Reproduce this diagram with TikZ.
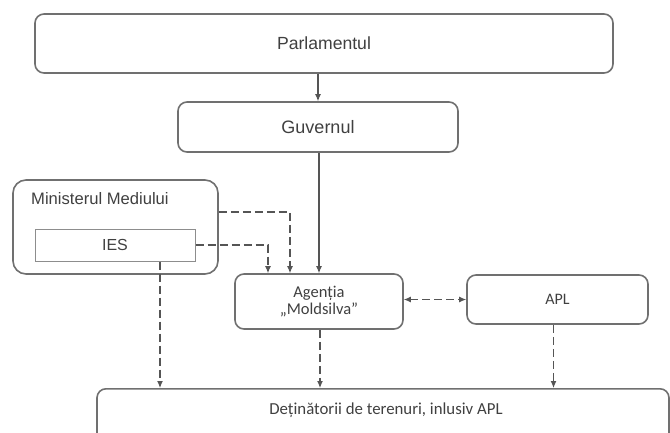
\documentclass[tikz,border=0pt]{standalone}
\usepackage{fontspec}
\setmainfont{Liberation Sans}
\newfontfamily\calfont{Carlito}
\usetikzlibrary{arrows.meta,positioning}
\definecolor{boxgray}{HTML}{707070}
\definecolor{linegray}{HTML}{555555}
\definecolor{txtgray}{HTML}{404040}
\begin{document}
\begin{tikzpicture}[x=1pt,y=-1pt,>={Latex[length=7pt,width=6pt]},
  box/.style={draw=boxgray,line width=1.6pt,rounded corners=9pt,inner sep=0pt,text=txtgray},
  lbl/.style={text=txtgray,inner sep=0pt},
  flow/.style={->,draw=linegray,line width=1.1pt},
  dflow/.style={flow,dash pattern=on 8pt off 4pt}]
  \useasboundingbox (0,0) rectangle (670,432);
  \clip (0,0) rectangle (670,432);
  % upper levels
  \node[box,minimum width=578,minimum height=59,font=\fontsize{17.6}{20}\selectfont] (parl) at (324,43.5) {Parlamentul};
  \node[box,minimum width=280,minimum height=50,font=\fontsize{18}{21}\selectfont] (guv) at (318,127) {Guvernul};
  % ministry with its institute
  \node[box,rounded corners=13pt,minimum width=205,minimum height=94] (min) at (115.5,227) {};
  \node[lbl,anchor=west,font=\fontsize{16.6}{19}\selectfont] (minlbl) at (31,199) {Ministerul Mediului};
  \node[draw=boxgray!80,line width=1pt,minimum width=160,minimum height=32,inner sep=0pt,text=txtgray,
    font=\fontsize{16}{19}\selectfont] (ies) at (115,245) {IES};
  % agency and local authorities
  \node[box,minimum width=168,minimum height=55,align=center,font=\calfont\fontsize{16.5}{17}\selectfont] (ag) at (319,301.5) {Agenția\\„Moldsilva”};
  \node[box,minimum width=181,minimum height=49,font=\calfont\fontsize{16}{18}\selectfont] (apl) at (557.5,299.5) {APL};
  % land holders, cut by the lower edge
  \node[box,anchor=north,minimum width=572,minimum height=90] (own) at (383,388) {};
  \node[lbl,font=\calfont\fontsize{16.8}{19}\selectfont] (ownlbl) at (386,410) {Deținătorii de terenuri, inlusiv APL};
  % solid links
  \draw[flow] (guv.north |- parl.south) -- (guv.north);
  \draw[flow] ([xshift=1pt]guv.south) -- ([xshift=1pt]guv.south |- ag.north);
  % dashed links
  \draw[dflow] ([yshift=15pt]min.east) -| ([xshift=-29pt]ag.north);
  \draw[dflow] (ies.east) -| ([xshift=-51pt]ag.north);
  \draw[dflow,<->] (apl.west -| ag.east) -- (apl.west);
  \foreach \src/\dx in {ies/45,ag/1,apl/-4}
    \draw[dflow] ([xshift=\dx pt]\src.south) -- ([xshift=\dx pt]\src.south |- own.north);
\end{tikzpicture}
\end{document}
